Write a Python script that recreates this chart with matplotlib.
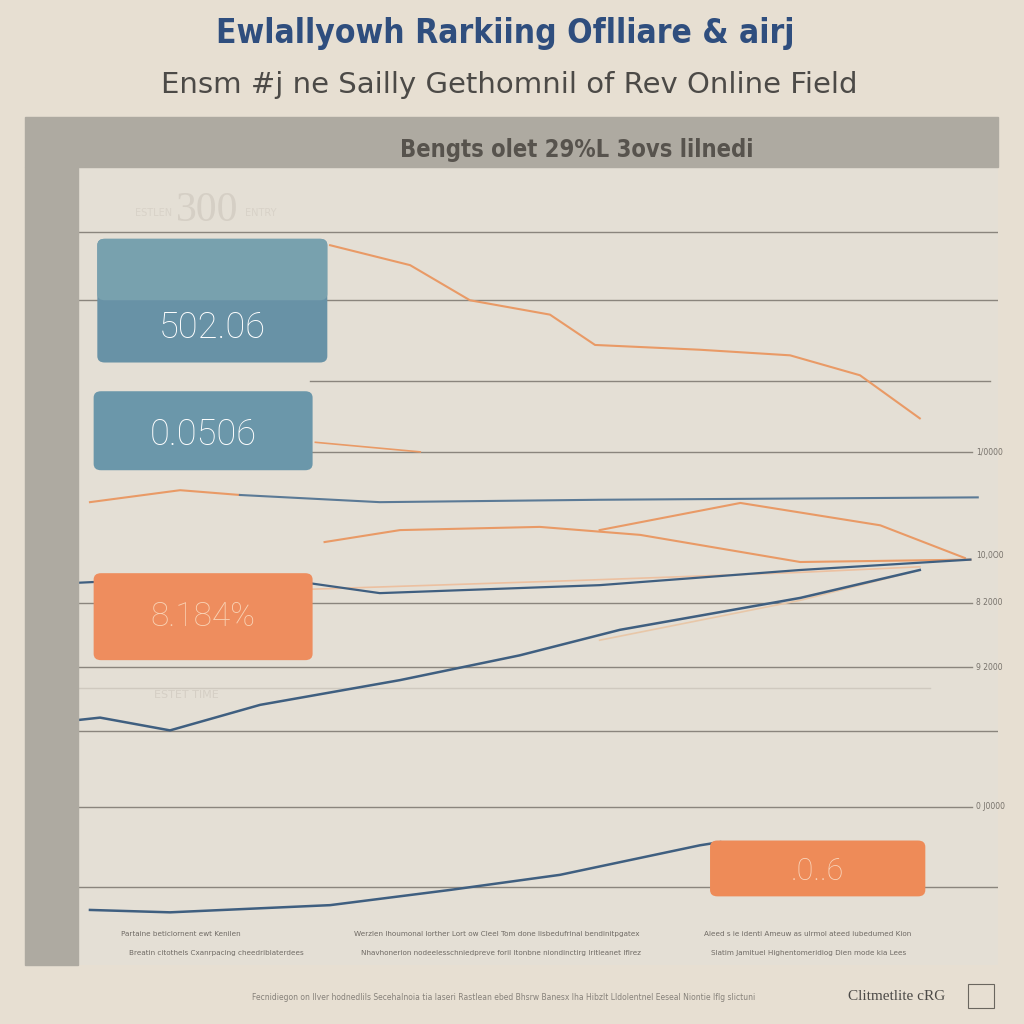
import matplotlib.pyplot as plt
from matplotlib.patches import Rectangle, FancyBboxPatch

# --- data (x: 0-100 across the panel, y: 0-100 up the panel) ---
top_orange_x = [27.4, 36.1, 42.6, 51.3, 56.2, 67.6, 77.4, 85.0, 91.5]
top_orange_y = [90.2, 87.7, 83.3, 81.5, 77.7, 77.1, 76.4, 73.9, 68.5]

short_orange_x = [25.8, 37.2]
short_orange_y = [65.5, 64.3]

left_orange_x = [1.3, 11.1, 17.6]
left_orange_y = [58.0, 59.5, 58.9]

flat_blue_x = [17.6, 32.8, 56.7, 97.8]
flat_blue_y = [58.9, 58.0, 58.3, 58.6]

mid_orange_x = [26.8, 35.0, 50.2, 61.1, 78.5, 97.0]
mid_orange_y = [53.0, 54.5, 54.9, 53.9, 50.5, 50.8]

peak_orange_x = [56.7, 72.0, 87.2, 96.4]
peak_orange_y = [54.5, 57.9, 55.1, 51.0]

mid_blue_x = [0.0, 11.1, 23.0, 32.8, 56.7, 78.5, 97.0]
mid_blue_y = [47.9, 48.5, 48.2, 46.6, 47.6, 49.5, 50.8]

faint_orange_x = [23.0, 54.6, 78.5, 91.5]
faint_orange_y = [47.0, 48.2, 49.2, 49.9]

rise_orange_x = [56.7, 78.5, 91.5]
rise_orange_y = [40.7, 45.7, 49.5]

low_blue_x = [0.0, 2.4, 10.0, 19.8, 35.0, 48.0, 58.9, 78.5, 91.5]
low_blue_y = [30.7, 31.0, 29.4, 32.6, 35.7, 38.8, 42.0, 46.0, 49.5]

bottom_blue_x = [1.3, 10.0, 27.4, 40.4, 52.4, 67.6, 69.8]
bottom_blue_y = [6.9, 6.6, 7.5, 9.4, 11.3, 15.0, 15.4]

grid_levels = [91.9, 83.3, 73.2, 64.3, 45.4, 37.3, 29.3, 19.8, 9.8]
grid_starts = [0, 0, 25.2, 25.2, 0, 0, 0, 0, 0]
grid_ends = [100, 100, 99.1, 97.2, 97.2, 97.2, 100, 97.2, 100]

left_tick_pos = [91.9, 82.6, 73.6, 46.5, 37.8, 29.7, 20.3]
left_tick_labels = ['NBLSE0', 'X500', 'SBBB0', '5000', '5d00', '3d00', '8000']
right_tick_pos = [64.3, 51.3, 45.4, 37.3, 19.8]
right_tick_labels = ['1/0000', '10,0O0', '8 2000', '9 2000', '0 J0000']

box_values = ['502.06', '0.0506', '8.184%', '.0..6']

notes_row1 = ['Partaine beticlornent ewt Kenilen',
              'Werzlen Ihoumonal lorther Lort ow Cleel Tom done lisbedufrinal bendinitpgatex',
              'Aleed s ie identi Ameuw as ulrmol ateed iubedumed Kion']
notes_row2 = ['Breatin citothels Cxanrpacing cheedriblaterdees',
              'Nhavhonerion nodeelesschniedpreve foril Itonbne niondinctirg Iritleanet Iflrez',
              'Slatim Jamituel Highentomeridiog Dien mode kia Lees']

BG = '#e7dfd2'
PANEL = '#e4dfd5'
STRIP = '#aeaaa1'
BLUE = '#3f5f80'
ORANGE = '#e99a66'

fig = plt.figure(figsize=(10.24, 10.24), dpi=100, facecolor=BG)

def fx(px):
    return px / 1024

def fy(py):
    return 1 - py / 1024

# header bar and left strip of the panel
fig.patches.append(Rectangle((fx(25), fy(167)), fx(998 - 25), (167 - 117) / 1024,
                             transform=fig.transFigure, color=STRIP, zorder=0))
fig.patches.append(Rectangle((fx(25), fy(965)), fx(78 - 25), (965 - 167) / 1024,
                             transform=fig.transFigure, color=STRIP, zorder=0))

ax = fig.add_axes([fx(78), fy(965), fx(998 - 78), (965 - 167) / 1024])
ax.set_facecolor(PANEL)
ax.set_xlim(0, 100)
ax.set_ylim(0, 100)
for s in ax.spines.values():
    s.set_visible(False)
ax.set_xticks([])
ax.set_yticks(left_tick_pos)
ax.set_yticklabels(left_tick_labels, fontsize=6, color='#6e6a64')
ax.tick_params(axis='y', length=0, pad=8)

for lvl, x0, x1 in zip(grid_levels, grid_starts, grid_ends):
    ax.plot([x0, x1], [lvl, lvl], color='#8a857d', lw=1.0, zorder=1)
ax.plot([0, 92.6], [34.7, 34.7], color='#cfc9bf', lw=1.0, zorder=1)

for pos, lab in zip(right_tick_pos, right_tick_labels):
    ax.text(97.6, pos, lab, fontsize=5.5, color='#77726b', va='center', ha='left',
            clip_on=False)

# series
ax.plot(top_orange_x, top_orange_y, color=ORANGE, lw=1.5, zorder=3)
ax.plot(short_orange_x, short_orange_y, color=ORANGE, lw=1.2, zorder=3)
ax.plot(left_orange_x, left_orange_y, color=ORANGE, lw=1.5, zorder=3)
ax.plot(flat_blue_x, flat_blue_y, color='#5b7a96', lw=1.5, zorder=3)
ax.plot(mid_orange_x, mid_orange_y, color=ORANGE, lw=1.5, zorder=3)
ax.plot(peak_orange_x, peak_orange_y, color=ORANGE, lw=1.5, zorder=3)
ax.plot(mid_blue_x, mid_blue_y, color=BLUE, lw=1.6, zorder=3)
ax.plot(faint_orange_x, faint_orange_y, color='#ecc0a0', lw=1.2, zorder=2)
ax.plot(rise_orange_x, rise_orange_y, color='#e8c7a8', lw=1.2, zorder=2)
ax.plot(low_blue_x, low_blue_y, color=BLUE, lw=1.8, zorder=3)
ax.plot(bottom_blue_x, bottom_blue_y, color=BLUE, lw=1.8, zorder=3)

# value boxes (positions in panel units); last entry is where the label sits in the box
boxes = [
    (2.1, 75.5, 25.0, 15.5, '#6892a6', '#ffffff', 26, 0.28),
    (1.7, 62.0, 23.8, 9.9, '#6b97aa', '#ffffff', 26, 0.45),
    (1.7, 38.2, 23.8, 10.9, '#ee8d5e', '#f9d2b4', 24, 0.50),
    (68.7, 8.6, 23.4, 7.0, '#ee8b58', '#f9d6bd', 22, 0.45),
]
for (x0, y0, w, h, fc, tc, fs, ty), val in zip(boxes, box_values):
    ax.add_patch(FancyBboxPatch((x0, y0), w, h, boxstyle='round,pad=0,rounding_size=0.8',
                                fc=fc, ec='none', zorder=4))
    ax.text(x0 + w / 2, y0 + h * ty, val, fontsize=fs, color=tc, ha='center',
            va='center', family=['Roboto', 'DejaVu Sans'], weight='light', zorder=6)
# lighter top half of the first box
ax.add_patch(FancyBboxPatch((2.1, 83.3), 25.0, 7.7, boxstyle='round,pad=0,rounding_size=0.8',
                            fc='#78a1ae', ec='none', zorder=5))

# faint watermark texts
ax.text(14.0, 94.5, '300', fontsize=30, color='#d5cfc5', ha='center', va='center',
        family=['Liberation Serif', 'DejaVu Serif'])
ax.text(8.2, 94.2, 'ESTLEN', fontsize=7, color='#d8d2c8', ha='center', va='center')
ax.text(19.9, 94.2, 'ENTRY', fontsize=7, color='#d8d2c8', ha='center', va='center')
ax.text(11.8, 33.8, 'ESTET TIME', fontsize=8, color='#d5cfc5', ha='center', va='center')

# notes along the bottom of the panel
note_x = [4.7, 30.0, 68.0]
for nx, t1, t2 in zip(note_x, notes_row1, notes_row2):
    ax.text(nx, 3.9, t1, fontsize=5.2, color='#6f6a64', ha='left', va='center')
    ax.text(nx + 0.8, 1.5, t2, fontsize=5.2, color='#6f6a64', ha='left', va='center')

# titles
fig.text(0.493, fy(33), 'Ewlallyowh Rarkiing Oflliare & airj', fontsize=24, weight='heavy',
         stretch='condensed', color='#2f4e7e', ha='center', va='center',
         family=['DejaVu Sans'])
fig.text(0.497, fy(85), 'Ensm #j ne Sailly Gethomnil of Rev Online Field', fontsize=21,
         color='#4c4a47', ha='center', va='center')
fig.text(fx(577), fy(150), 'Bengts olet 29%L 3ovs lilnedi', fontsize=17, color='#57534d',
         ha='center', va='center', weight='bold', stretch='condensed', family=['DejaVu Sans'])

# footer
fig.text(fx(252), fy(997), 'Fecnidiegon on Ilver hodnedlils Secehalnoia tia laseri Rastlean '
         'ebed Bhsrw Banesx Iha Hibzlt Lldolentnel Eeseal Niontie Iflg slictuni',
         fontsize=5.5, color='#86817a', ha='left', va='center')
fig.text(fx(848), fy(997), 'Clitmetlite cRG', fontsize=11, color='#4c4a47', ha='left',
         va='center', family=['Liberation Serif', 'DejaVu Serif'])
fig.patches.append(Rectangle((fx(968), fy(1008)), fx(26), 24 / 1024, transform=fig.transFigure,
                             fc='none', ec='#6a665f', lw=0.8))

fig.savefig('out.png', dpi=100, facecolor=BG)
